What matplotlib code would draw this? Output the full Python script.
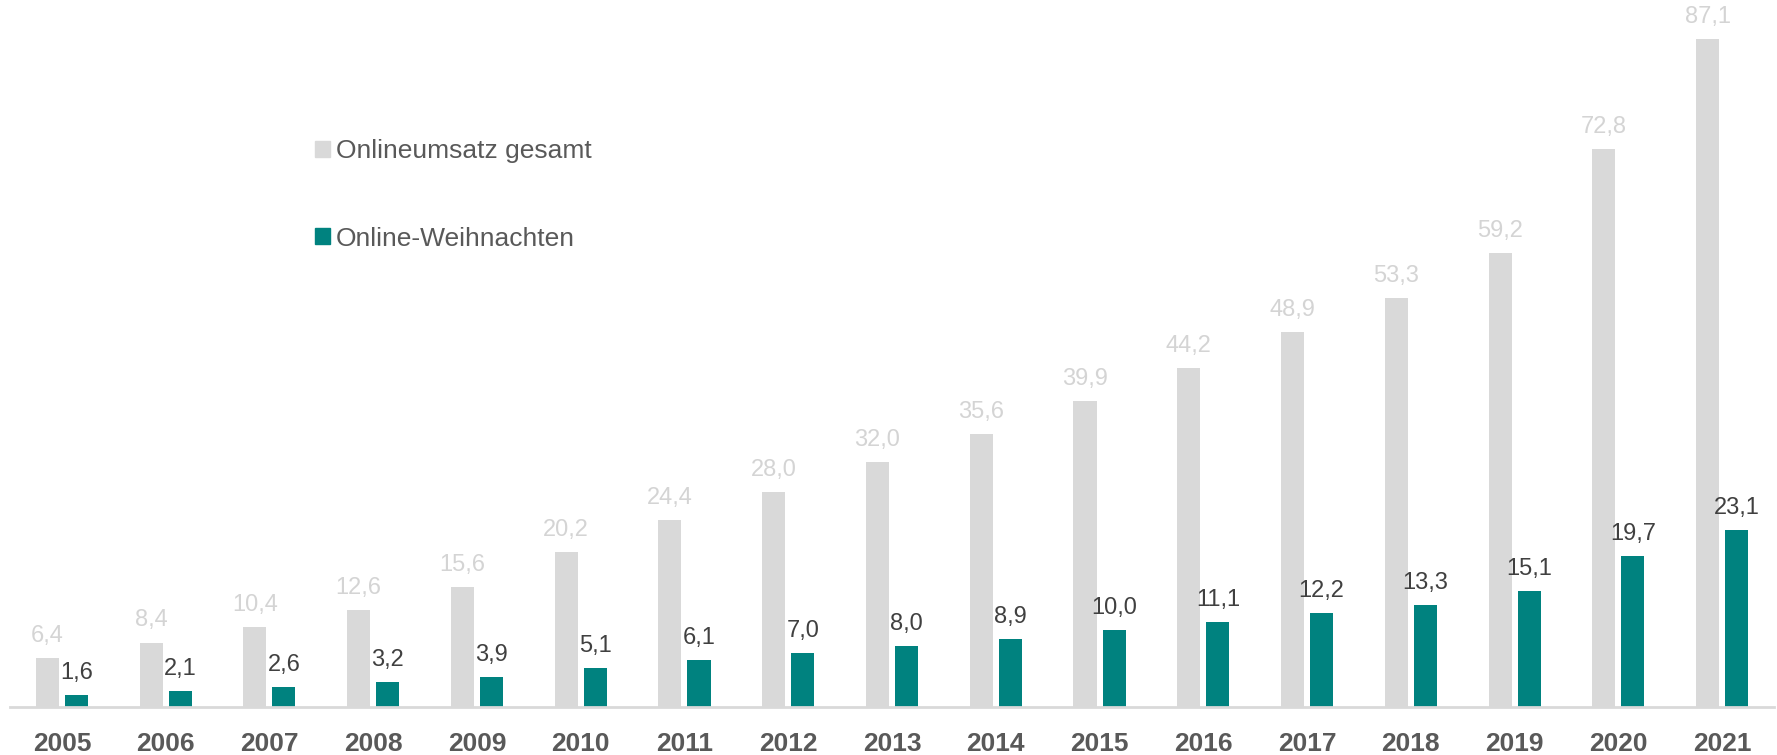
import matplotlib.pyplot as plt
import numpy as np
from matplotlib.patches import Patch

years = ["2005", "2006", "2007", "2008", "2009", "2010", "2011", "2012", "2013",
         "2014", "2015", "2016", "2017", "2018", "2019", "2020", "2021"]
online_total = [6.4, 8.4, 10.4, 12.6, 15.6, 20.2, 24.4, 28.0, 32.0,
                35.6, 39.9, 44.2, 48.9, 53.3, 59.2, 72.8, 87.1]
online_xmas = [1.6, 2.1, 2.6, 3.2, 3.9, 5.1, 6.1, 7.0, 8.0,
               8.9, 10.0, 11.1, 12.2, 13.3, 15.1, 19.7, 23.1]
series_names = ["Onlineumsatz gesamt", "Online-Weihnachten"]

GRAY = "#d9d9d9"
TEAL = "#00827f"

plt.rcParams["font.family"] = ["Liberation Sans", "DejaVu Sans"]

fig = plt.figure(figsize=(17.77, 7.55), dpi=100)
ax = fig.add_axes([10 / 1777, 48 / 755, 1764 / 1777, 707 / 755])

x = np.arange(len(years))
w = 0.222
off = 0.14
b1 = ax.bar(x - off, online_total, width=w, color=GRAY)
b2 = ax.bar(x + off, online_xmas, width=w, color=TEAL)


def fmt(v):
    return f"{v:.1f}".replace(".", ",")


ax.bar_label(b1, labels=[fmt(v) for v in online_total], padding=8,
             fontsize=17, color="#d4d4d4")
ax.bar_label(b2, labels=[fmt(v) for v in online_xmas], padding=8,
             fontsize=17, color="#404040")

ax.set_xlim(-0.5, len(years) - 0.5)
ax.set_ylim(0, 92.2)
ax.set_xticks(x)
ax.set_xticklabels(years, fontsize=19, fontweight="bold", color="#595959")
ax.tick_params(axis="x", length=0, pad=18)
ax.set_yticks([])
for s in ["top", "right", "left"]:
    ax.spines[s].set_visible(False)
ax.spines["bottom"].set_color(GRAY)
ax.spines["bottom"].set_linewidth(2)

handles = [Patch(color=GRAY), Patch(color=TEAL)]
ax.legend(handles, series_names, loc="upper left",
          bbox_to_anchor=(315 / 1777, 1 - 139 / 755), bbox_transform=fig.transFigure,
          frameon=False, fontsize=19, labelcolor="#595959",
          handlelength=0.55, handleheight=0.55, handletextpad=0.25,
          labelspacing=2.41, borderpad=0, borderaxespad=0)

fig.savefig("out.png", dpi=100)
